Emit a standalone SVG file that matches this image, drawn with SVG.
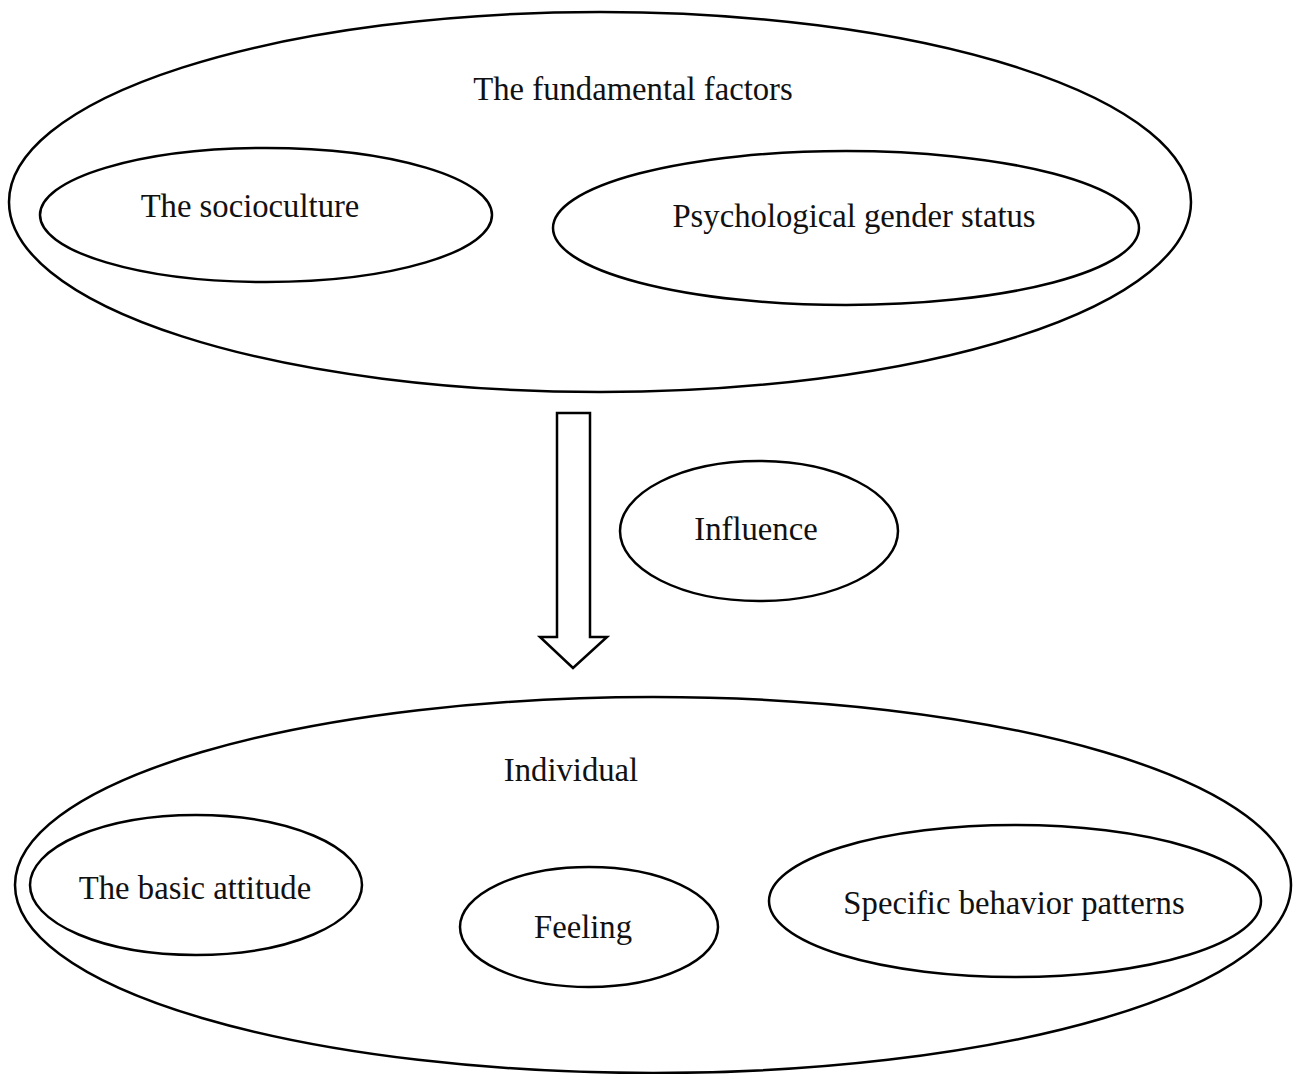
<svg xmlns="http://www.w3.org/2000/svg" width="1293" height="1074" viewBox="0 0 1293 1074">
<style>
.n{fill:none;stroke:#000;stroke-width:2.5}
.t{font-family:"Liberation Serif","Times New Roman",serif;font-size:32.7px;fill:#111;text-anchor:middle}
</style>
<rect width="1293" height="1074" fill="#fff"/>
<g id="fundamental">
<ellipse class="n" cx="600" cy="202" rx="591" ry="190"/>
<text class="t" x="633" y="100">The fundamental factors</text>
</g>
<g id="socioculture">
<ellipse class="n" cx="266" cy="215" rx="226" ry="67"/>
<text class="t" x="250" y="217">The socioculture</text>
</g>
<g id="psych">
<ellipse class="n" cx="846" cy="228" rx="293" ry="77"/>
<text class="t" x="854" y="227">Psychological gender status</text>
</g>
<g id="connectors">
<path class="n" d="M557,413 H590 V637 H607 L573,668 L540,637 H557 Z"/>
</g>
<g id="influence">
<ellipse class="n" cx="759" cy="531" rx="139" ry="70"/>
<text class="t" x="756" y="540">Influence</text>
</g>
<g id="individual">
<ellipse class="n" cx="653" cy="885" rx="638" ry="188"/>
<text class="t" x="571" y="781">Individual</text>
</g>
<g id="attitude">
<ellipse class="n" cx="196" cy="885" rx="166" ry="70"/>
<text class="t" x="195" y="899">The basic attitude</text>
</g>
<g id="feeling">
<ellipse class="n" cx="589" cy="927" rx="129" ry="60"/>
<text class="t" x="583" y="938">Feeling</text>
</g>
<g id="behavior">
<ellipse class="n" cx="1015" cy="901" rx="246" ry="76"/>
<text class="t" x="1014" y="914">Specific behavior patterns</text>
</g>
</svg>
